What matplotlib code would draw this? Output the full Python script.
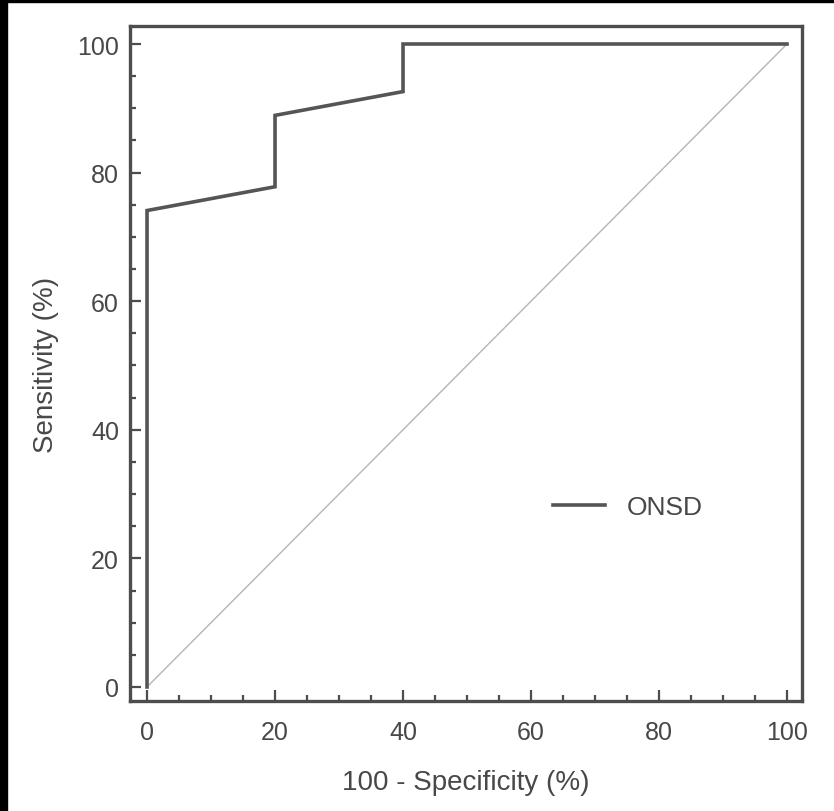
import matplotlib
matplotlib.use("Agg")
import matplotlib.pyplot as plt
from matplotlib.patches import Rectangle
from matplotlib.ticker import MultipleLocator

plt.rcParams['font.family'] = ['Liberation Sans', 'DejaVu Sans']

# ROC curve for ONSD (percent scale)
fpr = [0, 0, 20, 20, 40, 40, 100]          # 100 - Specificity (%)
tpr = [0, 74.1, 77.8, 88.9, 92.6, 100, 100]  # Sensitivity (%)
ref_x = [0, 100]
ref_y = [0, 100]
series_label = "ONSD"
xticks = [0, 20, 40, 60, 80, 100]
yticks = [0, 20, 40, 60, 80, 100]

W, H = 834, 812
fig = plt.figure(figsize=(W / 100, H / 100), dpi=100)
ax = fig.add_axes([130 / W, 1 - 702 / H, (802 - 130) / W, (702 - 27) / H])

frame_col = '#4d4d4d'
text_col = '#484848'

ax.plot(ref_x, ref_y, color='#b5b5b5', lw=1.0, zorder=2)
ax.plot(fpr, tpr, color='#555555', lw=2.6, solid_joinstyle='miter',
        label=series_label, zorder=3)

ax.set_xlim(-2.66, 102.34)
ax.set_ylim(-2.18, 102.8)
ax.set_xticks(xticks)
ax.set_yticks(yticks)
ax.xaxis.set_minor_locator(MultipleLocator(5))
ax.yaxis.set_minor_locator(MultipleLocator(5))

for s in ax.spines.values():
    s.set_color(frame_col)
    s.set_linewidth(2.4)

ax.tick_params(which='both', direction='in', color=frame_col, width=1.6,
               top=False, right=False, labelcolor=text_col, labelsize=18)
ax.tick_params(which='major', length=8)
ax.tick_params(which='minor', length=4.5)
ax.tick_params(axis='x', which='major', pad=14)
ax.tick_params(axis='y', which='major', pad=8)

ax.set_xlabel("100 - Specificity (%)", fontsize=20, color=text_col, labelpad=18)
ax.set_ylabel("Sensitivity (%)", fontsize=20, color=text_col, labelpad=13)

leg = ax.legend(loc='center left', bbox_to_anchor=(0.629, 0.287), frameon=False,
                borderpad=0, borderaxespad=0, handlelength=2.0,
                handletextpad=0.8, fontsize=19)
for t in leg.get_texts():
    t.set_color(text_col)

# dark edge strips on the left and top of the canvas
fig.add_artist(Rectangle((0, 0), 7 / W, 1, transform=fig.transFigure,
                         color='black', zorder=10))
fig.add_artist(Rectangle((0, 1 - 3 / H), 1, 3 / H, transform=fig.transFigure,
                         color='black', zorder=10))

fig.savefig("out.png", dpi=100, facecolor='white')
